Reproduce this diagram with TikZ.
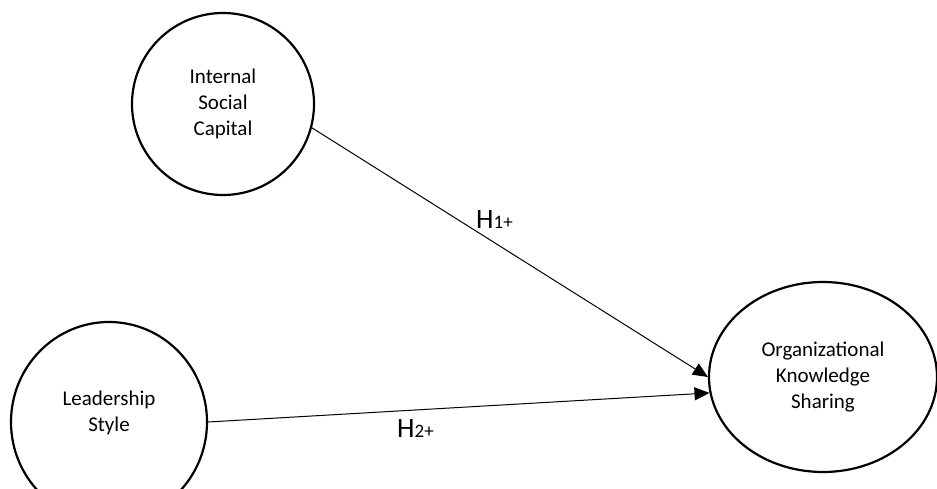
\documentclass[tikz,border=0pt]{standalone}
\usepackage{fontspec}
\setmainfont{Carlito}
\usetikzlibrary{shapes.geometric,arrows.meta}
\begin{document}
\begin{tikzpicture}[x=1pt,y=-1pt,
  construct/.style={draw=black,line width=2.2pt,ellipse,inner sep=0pt,align=center,
    font=\fontsize{21}{25.6}\selectfont},
  link/.style={line width=1pt,-{Triangle[length=15pt,width=13pt]}},
  hyp/.style={inner sep=0pt,anchor=base west}]
\useasboundingbox (0,0) rectangle (937,489);
\node[construct,minimum width=182pt,minimum height=182pt] (isc) at (223,104) {Internal\\Social\\Capital};
\node[construct,minimum width=196pt,minimum height=200pt,
  label={[font=\fontsize{21}{25.6}\selectfont,align=center,yshift=9pt]center:Leadership\\Style}] (ls) at (109,422) {};
\node[construct,minimum width=228pt,minimum height=190pt] (oks) at (823,377) {Organizational\\Knowledge\\Sharing};
\draw[link] (isc.-15) -- (oks.180.5);
\draw[link] (ls.0) -- (oks.188);
\node[hyp] (h1) at (476,229) {\fontsize{28}{30}\selectfont H\fontsize{19}{20}\selectfont 1+};
\node[hyp] (h2) at (397,437) {\fontsize{28}{30}\selectfont H\fontsize{19}{20}\selectfont 2+};
\end{tikzpicture}
\end{document}
